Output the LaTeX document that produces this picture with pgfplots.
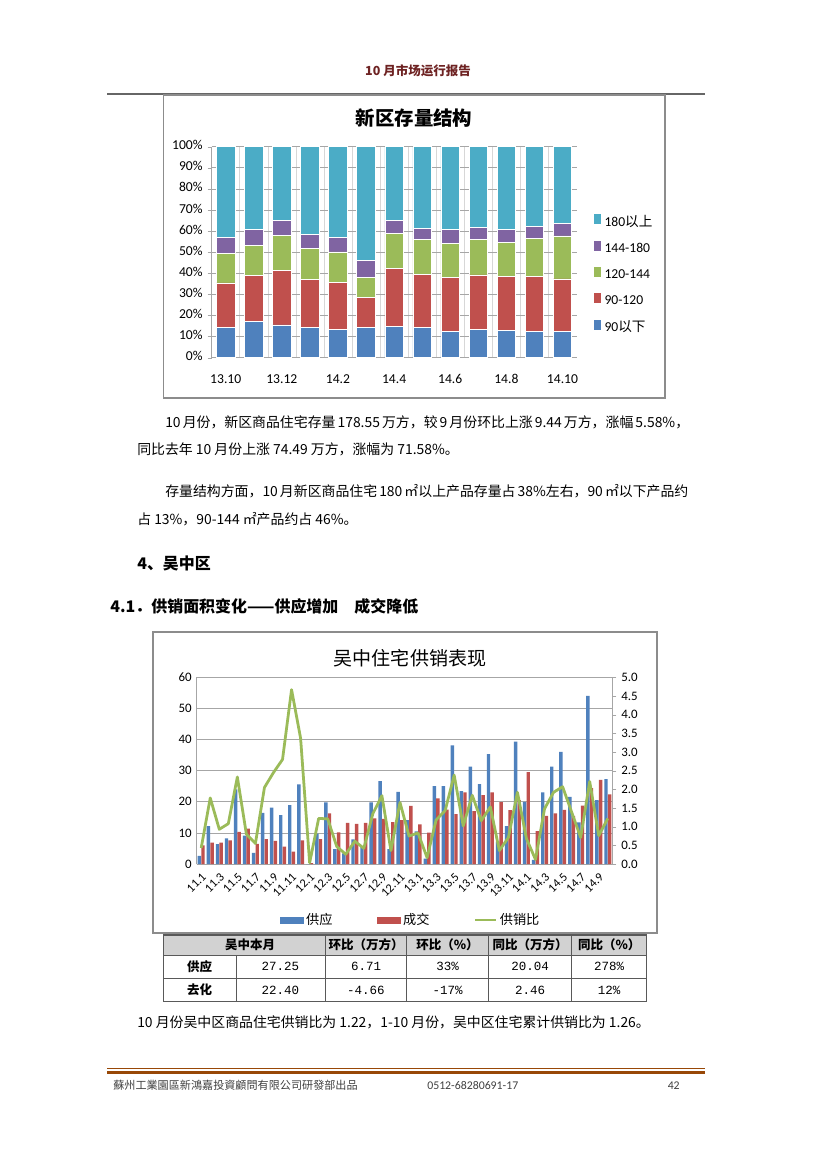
\documentclass[border=0pt]{standalone}
\usepackage{pgfplots}
\usepackage{pgfplotstable}
\pgfplotsset{compat=1.18}
\usepackage{fontspec}
\setmainfont{Carlito}
\newfontfamily\cjk{Noto Sans CJK SC}
\newfontfamily\mono{Liberation Mono}

\definecolor{c1}{HTML}{4F81BD}
\definecolor{c2}{HTML}{C0504D}
\definecolor{c3}{HTML}{9BBB59}
\definecolor{c4}{HTML}{8064A2}
\definecolor{c5}{HTML}{4BACC6}
\definecolor{framec}{HTML}{8C8C8C}
\definecolor{gridc}{HTML}{A6A6A6}
\definecolor{headred}{RGB}{110,35,35}
\definecolor{brownc}{RGB}{152,72,7}

\pgfplotsset{/pgf/number format/assume math mode=true}

% 新区存量结构, shares in percent (90以下, 90-120, 120-144, 144-180, 180以上)
\pgfplotstableread{
x a b c d e
0 14.5 21.0 14.1 7.4 43.0
1 17.1 21.9 14.2 7.5 39.3
2 15.5 25.7 16.9 6.8 35.1
3 14.2 22.8 14.8 6.7 41.5
4 13.6 22.1 14.5 6.7 43.1
5 14.2 14.2 9.7 7.9 54.0
6 14.7 27.6 16.6 6.2 34.9
7 14.4 25.1 16.4 5.4 38.7
8 12.6 25.6 16.1 6.4 39.3
9 13.4 25.8 16.7 5.9 38.2
10 13.0 25.4 16.4 6.0 39.2
11 12.6 26.1 18.0 5.5 37.8
12 12.5 24.9 20.3 6.0 36.3
}\stock

% 吴中 supply (s), sales (t), ratio (r); 11.1 .. 14.10
\pgfplotstableread{
x s t r
0 2.6 6.0 0.43
1 12.2 6.9 1.77
2 6.4 6.9 0.93
3 8.2 7.6 1.08
4 24.0 10.3 2.33
5 9.1 11.4 0.80
6 3.6 6.5 0.55
7 16.4 8.0 2.05
8 18.1 7.4 2.45
9 15.7 5.6 2.80
10 18.9 4.0 4.67
11 25.6 7.6 3.37
12 0.0 0.3 0.03
13 9.8 8.0 1.22
14 19.8 16.3 1.21
15 4.8 10.2 0.47
16 3.4 13.2 0.26
17 7.9 12.9 0.61
18 5.5 13.2 0.42
19 19.8 14.7 1.35
20 26.6 14.5 1.83
21 4.8 13.5 0.36
22 23.2 14.1 1.65
23 14.1 18.7 0.75
24 10.5 12.7 0.83
25 1.7 10.1 0.17
26 25.0 21.1 1.18
27 25.0 17.5 1.43
28 38.1 16.0 2.38
29 23.4 23.0 1.02
30 31.3 17.0 1.84
31 25.7 22.1 1.16
32 35.3 23.0 1.53
33 7.2 19.9 0.36
34 12.2 17.3 0.71
35 39.3 20.5 1.92
36 20.0 29.5 0.68
37 1.3 10.6 0.12
38 23.0 15.5 1.48
39 31.3 16.3 1.92
40 36.0 17.4 2.07
41 21.6 15.5 1.39
42 13.4 18.8 0.71
43 54.0 24.4 2.21
44 20.54 27.06 0.76
45 27.25 22.40 1.22
}\wz

\begin{document}
\begin{tikzpicture}
\begin{scope}[x=0.72pt,y=-0.72pt]
\fill[white] (0,0) rectangle (827,1169);

% page header
\node[text=headred, font=\cjk\bfseries\fontsize{9}{11}\selectfont, anchor=base] at (418,75.5) {10 月市场运行报告};
\draw[gray!80!black, line width=1.1pt] (107,94) -- (705,94);

% chart frames and titles
\draw[framec, line width=1pt] (163.5,95) rectangle (665,398);
\node[font=\cjk\bfseries\fontsize{14}{16}\selectfont, inner sep=0pt] at (414,118) {新区存量结构};
\draw[framec, line width=1pt] (153,632) rectangle (657,933);
\node[font=\cjk\fontsize{13.7}{16}\selectfont, inner sep=0pt] at (410,658) {吴中住宅供销表现};

% body text
\begin{scope}[every node/.style={anchor=base west, inner sep=0pt, font=\cjk\fontsize{10}{12}\selectfont}]
\node at (165,427) {\makebox[374.4pt][s]{10 月份，新区商品住宅存量 178.55 万方，较 9 月份环比上涨 9.44 万方，涨幅 5.58\%，}};
\node at (137,454) {同比去年 10 月份上涨 74.49 万方，涨幅为 71.58\%。};
\node at (165,496) {\makebox[374.4pt][s]{存量结构方面，10 月新区商品住宅 180 ㎡以上产品存量占 38\%左右，90 ㎡以下产品约}};
\node at (137,524) {占 13\%，90-144 ㎡产品约占 46\%。};
\node at (137,1027) {10 月份吴中区商品住宅供销比为 1.22，1-10 月份，吴中区住宅累计供销比为 1.26。};
\node[font=\cjk\bfseries\fontsize{11.5}{14}\selectfont] at (137,569) {4、吴中区};
\node[font=\cjk\bfseries\fontsize{11.5}{14}\selectfont] at (110,612) {4.1．供销面积变化——供应增加　成交降低};
\end{scope}

% table
\fill[gray!35] (163.3,935) rectangle (646.7,955);
\draw[gray!70!black, line width=0.5pt] (163.3,955) -- (646.7,955) (163.3,978) -- (646.7,978);
\foreach \cx in {325,406.7,488.3,571.7} \draw[gray!70!black, line width=0.5pt] (\cx,935) -- (\cx,1001.7);
\draw[gray!70!black, line width=0.5pt] (236,955) -- (236,1001.7);
\draw[gray!70!black, line width=0.9pt] (163.3,935) rectangle (646.7,1001.7);
\begin{scope}[every node/.style={inner sep=0pt, font=\cjk\bfseries\fontsize{9}{11}\selectfont}]
\node at (250,945) {吴中本月};
\node at (366,945) {环比（万方）};
\node at (447.5,945) {环比（\%）};
\node at (530,945) {同比（万方）};
\node at (609.2,945) {同比（\%）};
\node at (199.6,966.5) {供应};
\node at (199.6,990) {去化};
\end{scope}
\begin{scope}[every node/.style={inner sep=0pt, font=\mono\fontsize{9}{11}\selectfont}]
\node at (280.5,966.5) {27.25};
\node at (366,966.5) {6.71};
\node at (447.5,966.5) {33\%};
\node at (530,966.5) {20.04};
\node at (609.2,966.5) {278\%};
\node at (280.5,990) {22.40};
\node at (366,990) {-4.66};
\node at (447.5,990) {-17\%};
\node at (530,990) {2.46};
\node at (609.2,990) {12\%};
\end{scope}

% footer
\draw[brownc, line width=0.5pt] (107,1068.5) -- (705,1068.5);
\draw[brownc, line width=2.6pt] (107,1072.5) -- (705,1072.5);
\node[anchor=base west, inner sep=0pt, text=black!75, font=\cjk\fontsize{8}{10}\selectfont] at (113,1089) {蘇州工業園區新鴻嘉投資顧問有限公司研發部出品};
\node[anchor=base west, inner sep=0pt, text=black!75, font=\fontsize{8.5}{10}\selectfont] at (427,1089) {0512-68280691-17};
\node[anchor=base east, inner sep=0pt, text=black!75, font=\fontsize{8.5}{10}\selectfont] at (680,1089) {42};
\end{scope}

% ---------- 新区存量结构 ----------
\begin{axis}[
    at={(152.42pt,-257.54pt)}, anchor=south west, scale only axis,
    width=262.66pt, height=151.92pt,
    ybar stacked, bar width=0.66,
    xmin=-0.5, xmax=12.5, ymin=0, ymax=100,
    xtick={0,2,...,12},
    xticklabels={13.10,13.12,14.2,14.4,14.6,14.8,14.10},
    ytick={0,10,...,100},
    yticklabels={0\%,10\%,20\%,30\%,40\%,50\%,60\%,70\%,80\%,90\%,100\%},
    minor xtick={0.5,1.5,...,11.5},
    xminorgrids, minor grid style={gridc!45, line width=0.4pt},
    ymajorgrids, major grid style={gridc, line width=0.5pt},
    axis x line*=bottom, axis y line*=left,
    axis line style={gridc, line width=0.6pt},
    tick align=outside, major tick length=3pt, minor tick length=0pt,
    xtick style={draw=none}, ytick style={gridc},
    tick label style={font=\fontsize{9.8}{11}\selectfont},
    typeset ticklabels with strut,
    xticklabel style={yshift=-4pt},
    ybar legend/.style={legend image code/.code={\fill[##1] (0pt,-2.3pt) rectangle (4.6pt,2.3pt);}},
    reverse legend,
    legend style={at={(1.044,0.395)}, anchor=west, draw=none, fill=none,
        font=\fontsize{9.8}{11}\selectfont, row sep=6.5pt, inner sep=0pt,
        cells={anchor=west}},
]
\addplot[fill=c1, draw=white, line width=0.4pt] table[x=x, y=a] {\stock};
\addlegendentry{90{\cjk 以下}}
\addplot[fill=c2, draw=white, line width=0.4pt] table[x=x, y=b] {\stock};
\addlegendentry{90-120}
\addplot[fill=c3, draw=white, line width=0.4pt] table[x=x, y=c] {\stock};
\addlegendentry{120-144}
\addplot[fill=c4, draw=white, line width=0.4pt] table[x=x, y=d] {\stock};
\addlegendentry{144-180}
\addplot[fill=c5, draw=white, line width=0.4pt] table[x=x, y=e] {\stock};
\addlegendentry{180{\cjk 以上}}
\end{axis}

% ---------- 吴中住宅供销表现: bars ----------
\begin{axis}[
    at={(141.62pt,-622.08pt)}, anchor=south west, scale only axis,
    width=299.23pt, height=134.42pt,
    ybar, bar width=0.38,
    xmin=-0.5, xmax=45.5, ymin=0, ymax=60,
    ytick={0,10,...,60},
    xtick={0,2,...,44},
    xticklabels={11.1,11.3,11.5,11.7,11.9,11.11,12.1,12.3,12.5,12.7,12.9,12.11,13.1,13.3,13.5,13.7,13.9,13.11,14.1,14.3,14.5,14.7,14.9},
    xticklabel style={rotate=45, anchor=north east, inner sep=1pt, font=\fontsize{8.8}{10}\selectfont},
    yticklabel style={font=\fontsize{9.3}{11}\selectfont},
    ymajorgrids, major grid style={gridc, line width=0.5pt},
    axis x line*=bottom, axis y line*=left,
    axis line style={gridc, line width=0.6pt},
    xtick style={draw=none}, ytick style={draw=none},
]
\addplot[fill=c1, draw=none, bar shift=-0.2] table[x=x, y=s] {\wz};
\addplot[fill=c2, draw=none, bar shift=0.2] table[x=x, y=t] {\wz};
\end{axis}

% ---------- 吴中住宅供销表现: ratio ----------
\begin{axis}[
    at={(141.62pt,-622.08pt)}, anchor=south west, scale only axis,
    width=299.23pt, height=134.42pt,
    xmin=-0.5, xmax=45.5, ymin=0, ymax=5,
    ytick={0,0.5,...,5},
    axis y line*=right, axis x line=none,
    axis line style={gridc, line width=0.6pt},
    tick align=outside, major tick length=3pt, ytick style={gridc},
    yticklabel style={font=\fontsize{9.3}{11}\selectfont,
        /pgf/number format/.cd, fixed, fixed zerofill, precision=1},
    legend style={at={(0.5157,-0.30)}, anchor=center, draw=none, fill=none,
        font=\cjk\fontsize{9.5}{11}\selectfont, legend columns=3, inner sep=0pt},
    /tikz/every even column/.append style={column sep=30pt},
]
\addlegendimage{legend image code/.code={\fill[c1] (0pt,-2.2pt) rectangle (16.5pt,2.2pt);}}
\addlegendentry{供应}
\addlegendimage{legend image code/.code={\fill[c2] (0pt,-2.2pt) rectangle (16.5pt,2.2pt);}}
\addlegendentry{成交}
\addplot[c3, line width=2pt, mark=none, line join=round,
    legend image code/.code={\draw[c3, line width=1.6pt] (0pt,0pt) -- (15pt,0pt);}]
    table[x=x, y=r] {\wz};
\addlegendentry{供销比}
\end{axis}
\end{tikzpicture}
\end{document}
